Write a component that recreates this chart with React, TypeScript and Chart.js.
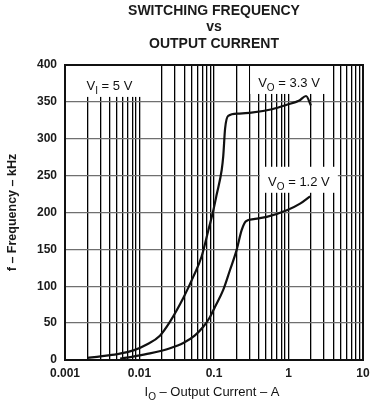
import { useEffect, useRef } from "react";
import { Chart, registerables } from "chart.js";

Chart.register(...registerables);

// Output current (A) and switching frequency (kHz), VO = 3.3 V
const v33Current = [0.002, 0.003, 0.005, 0.0083, 0.0125, 0.0188, 0.0257, 0.0387, 0.0528, 0.068, 0.084, 0.098, 0.109, 0.127, 0.133, 0.141, 0.155, 0.21, 0.3, 0.6, 0.95, 1.4, 1.72, 2.0];
const v33Freq = [3, 5, 8, 13, 21, 33, 52, 84, 113, 140, 176, 203, 225, 258, 276, 314, 331, 334, 335, 340, 346, 352, 358, 345];

// VO = 1.2 V
const v12Current = [0.0055, 0.0085, 0.0138, 0.0257, 0.0387, 0.055, 0.0718, 0.088, 0.103, 0.133, 0.164, 0.201, 0.235, 0.267, 0.34, 0.51, 0.95, 1.43, 1.95];
const v12Freq = [2, 5, 9, 16, 23, 33, 45, 58, 72, 95, 122, 149, 176, 188, 191, 194, 203, 212, 222];

const xDecades = [0.001, 0.01, 0.1, 1, 10];
const xTickLabels = ["0.001", "0.01", "0.1", "1", "10"];
const xMinorSteps = [1, 2, 3, 4, 5, 6, 7, 8, 9];
const yMin = 0;
const yMax = 400;
const yStep = 50;

const titleLines = ["SWITCHING FREQUENCY", "vs", "OUTPUT CURRENT"];
const yTitle = "f \u2013 Frequency \u2013 kHz";
const xTitleMain = "I";
const xTitleSub = "O";
const xTitleRest = " \u2013 Output Current \u2013 A";

// annotations: main, subscript, rest, x (A), y (kHz)
const noteMain = ["V", "V", "V"];
const noteSub = ["I", "O", "O"];
const noteRest = [" = 5 V", " = 3.3 V", " = 1.2 V"];
const noteX = [0.00395, 1.016, 1.38];
const noteY = [373, 377, 243];

const FONT = "'Liberation Sans', Arial, sans-serif";

function drawSubText(ctx: CanvasRenderingContext2D, main: string, sub: string, rest: string, cx: number, baseline: number, size: number, weight: string) {
  const big = `${weight} ${size}px ${FONT}`;
  const small = `${weight} ${Math.round(size * 0.78)}px ${FONT}`;
  ctx.font = big;
  const w1 = ctx.measureText(main).width;
  const w3 = ctx.measureText(rest).width;
  ctx.font = small;
  const w2 = ctx.measureText(sub).width;
  const total = w1 + w2 + w3;
  let x = cx - total / 2;
  ctx.textAlign = "left";
  ctx.textBaseline = "alphabetic";
  ctx.font = big;
  ctx.fillText(main, x, baseline);
  x += w1;
  ctx.font = small;
  ctx.fillText(sub, x, baseline + size * 0.3);
  x += w2;
  ctx.font = big;
  ctx.fillText(rest, x, baseline);
  return total;
}

const decorPlugin = {
  id: "decor",
  beforeDatasetsDraw(chart: any) {
    const { ctx, chartArea, scales } = chart;
    ctx.save();
    for (let i = 0; i < noteMain.length; i++) {
      const cx = scales.x.getPixelForValue(noteX[i]);
      const cy = scales.y.getPixelForValue(noteY[i]);
      ctx.font = `13px ${FONT}`;
      const w = ctx.measureText(noteMain[i] + noteRest[i]).width + 10;
      const bw = w + 14;
      let top = cy - 14;
      const bottom = cy + 12;
      if (top - chartArea.top < 8) top = chartArea.top + 1;
      ctx.fillStyle = "#ffffff";
      ctx.fillRect(cx - bw / 2, top, bw, bottom - top);
      ctx.fillStyle = "#111";
      drawSubText(ctx, noteMain[i], noteSub[i], noteRest[i], cx, cy + 5, 13, "normal");
    }
    ctx.restore();
  },
  afterDraw(chart: any) {
    const { ctx, chartArea } = chart;
    ctx.save();
    ctx.strokeStyle = "#111";
    ctx.lineWidth = 2;
    ctx.strokeRect(chartArea.left, chartArea.top, chartArea.right - chartArea.left, chartArea.bottom - chartArea.top);
    const cx = (chartArea.left + chartArea.right) / 2;
    ctx.fillStyle = "#1a1a1a";
    ctx.textAlign = "center";
    ctx.textBaseline = "alphabetic";
    ctx.font = `bold 14px ${FONT}`;
    const baselines = [15, 31, 48];
    titleLines.forEach((t, i) => ctx.fillText(t, cx, baselines[i]));
    // y title
    ctx.save();
    ctx.translate(13, (chartArea.top + chartArea.bottom) / 2);
    ctx.rotate(-Math.PI / 2);
    ctx.font = `bold 12.5px ${FONT}`;
    ctx.textBaseline = "middle";
    ctx.fillText(yTitle, 0, 0);
    ctx.restore();
    // x title
    ctx.fillStyle = "#111";
    drawSubText(ctx, xTitleMain, xTitleSub, xTitleRest, cx - 2, 396, 13, "normal");
    ctx.restore();
  },
};

export default function App() {
  const ref = useRef<HTMLCanvasElement | null>(null);
  useEffect(() => {
    document.body.style.margin = "0";
    if (!ref.current) return;
    const xTickValues: number[] = [];
    xDecades.forEach((d, i) => {
      if (i === xDecades.length - 1) xTickValues.push(d);
      else xMinorSteps.forEach((m) => xTickValues.push(+(d * m).toPrecision(6)));
    });
    const lineStyle = {
      borderColor: "#111",
      borderWidth: 2.2,
      pointRadius: 0,
      cubicInterpolationMode: "monotone",
      fill: false,
    };
    const chart = new Chart(ref.current, {
      type: "line",
      data: {
        datasets: [
          { label: "VO = 3.3 V", data: v33Current.map((x, i) => ({ x, y: v33Freq[i] })), ...lineStyle },
          { label: "VO = 1.2 V", data: v12Current.map((x, i) => ({ x, y: v12Freq[i] })), ...lineStyle },
        ],
      },
      options: {
        animation: false,
        responsive: false,
        maintainAspectRatio: false,
        layout: { padding: { top: 65, right: 17, left: 0, bottom: 0 } },
        plugins: { legend: { display: false }, tooltip: { enabled: false }, title: { display: false } },
        scales: {
          x: {
            type: "logarithmic",
            min: xDecades[0],
            max: xDecades[xDecades.length - 1],
            afterBuildTicks: (scale: any) => {
              scale.ticks = xTickValues.map((v) => ({ value: v }));
            },
            afterFit: (scale: any) => {
              scale.height = 40;
            },
            ticks: {
              autoSkip: false,
              maxRotation: 0,
              padding: 6,
              color: "#1a1a1a",
              font: { family: FONT, size: 12, weight: "bold" },
              callback: (value: any) => {
                const v = Number(value);
                const idx = xDecades.findIndex((d) => Math.abs(Math.log10(v) - Math.log10(d)) < 1e-6);
                return idx >= 0 ? xTickLabels[idx] : "";
              },
            },
            grid: { color: "#000", lineWidth: 1.3, drawTicks: false },
            border: { display: true, color: "#111", width: 2 },
          },
          y: {
            type: "linear",
            min: yMin,
            max: yMax,
            afterFit: (scale: any) => {
              scale.width = 65;
            },
            ticks: {
              stepSize: yStep,
              padding: 8,
              color: "#1a1a1a",
              font: { family: FONT, size: 12, weight: "bold" },
            },
            grid: { color: "#6f6f6f", lineWidth: 1.3, drawTicks: false },
            border: { display: true, color: "#111", width: 2 },
          },
        },
      },
      plugins: [decorPlugin],
    } as any);
    return () => chart.destroy();
  }, []);
  return (
    <canvas ref={ref} width={380} height={400} style={{ display: "block", width: 380, height: 400 }} />
  );
}
